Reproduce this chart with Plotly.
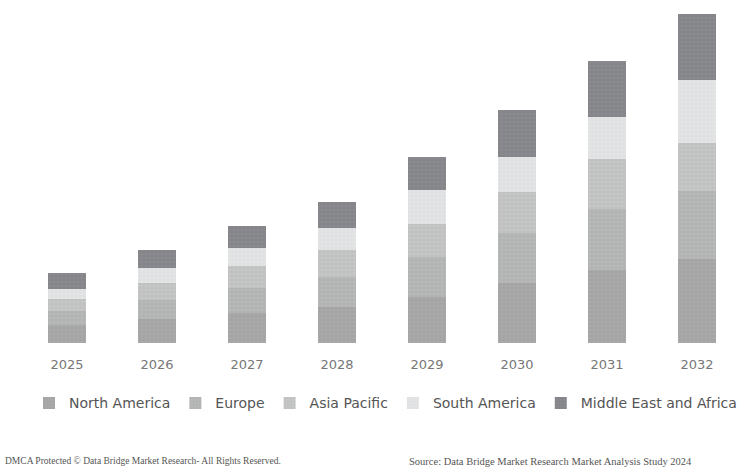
import plotly.graph_objects as go

years = ["2025", "2026", "2027", "2028", "2029", "2030", "2031", "2032"]
north_america = [1.8, 2.4, 3.0, 3.6, 4.6, 6.0, 7.3, 8.4]
europe = [1.4, 1.9, 2.5, 3.0, 4.0, 5.0, 6.1, 6.8]
asia_pacific = [1.2, 1.7, 2.2, 2.7, 3.3, 4.1, 5.0, 4.8]
south_america = [1.0, 1.5, 1.8, 2.2, 3.4, 3.5, 4.2, 6.3]
mea = [1.6, 1.8, 2.2, 2.6, 3.3, 4.7, 5.6, 6.6]

series = [
    ("North America", north_america, "#a9aaa9", "#8d8e8e"),
    ("Europe", europe, "#b8b9b9", "#9a9b9c"),
    ("Asia Pacific", asia_pacific, "#c6c7c7", "#a9aaab"),
    ("South America", south_america, "#e4e6e6", "#c9cbcc"),
    ("Middle East and Africa", mea, "#8a8b8f", "#6b6c72"),
]

fig = go.Figure()
for name, vals, col, fg in series:
    fig.add_trace(go.Bar(
        name=name, x=years, y=vals,
        marker=dict(color=col, line=dict(width=0),
                    pattern=dict(shape="+", size=4, solidity=0.25, fgcolor=fg, bgcolor=col)),
    ))

fig.update_layout(
    barmode="stack",
    bargap=0.58,
    width=743, height=470,
    margin=dict(l=22, r=1, t=14, b=127),
    paper_bgcolor="white", plot_bgcolor="white",
    font=dict(family="DejaVu Sans, sans-serif", color="#666666"),
    showlegend=True,
    legend=dict(orientation="h", x=1.0, xanchor="right", y=-0.135, yanchor="top",
                font=dict(size=14, color="#555555"), itemwidth=30, traceorder="normal"),
    xaxis=dict(showline=False, showgrid=False, zeroline=False, ticks="",
               tickfont=dict(size=13, color="#777777"), ticklabelstandoff=12),
    yaxis=dict(visible=False, range=[0, 32.9], showgrid=False),
)

fig.add_annotation(text="DMCA Protected © Data Bridge Market Research- All Rights Reserved.",
                   xref="paper", yref="paper", x=-0.027, y=-0.36, xanchor="left", yanchor="middle",
                   showarrow=False, font=dict(family="Liberation Serif", size=9.5, color="#555555"))
fig.add_annotation(text="Source: Data Bridge Market Research Market Analysis Study 2024",
                   xref="paper", yref="paper", x=0.535, y=-0.36, xanchor="left", yanchor="middle",
                   showarrow=False, font=dict(family="Liberation Serif", size=10.5, color="#555555"))

fig.write_html("out.html", config={"displayModeBar": False},
               post_script="document.body.style.margin='0';document.body.style.padding='0';")
